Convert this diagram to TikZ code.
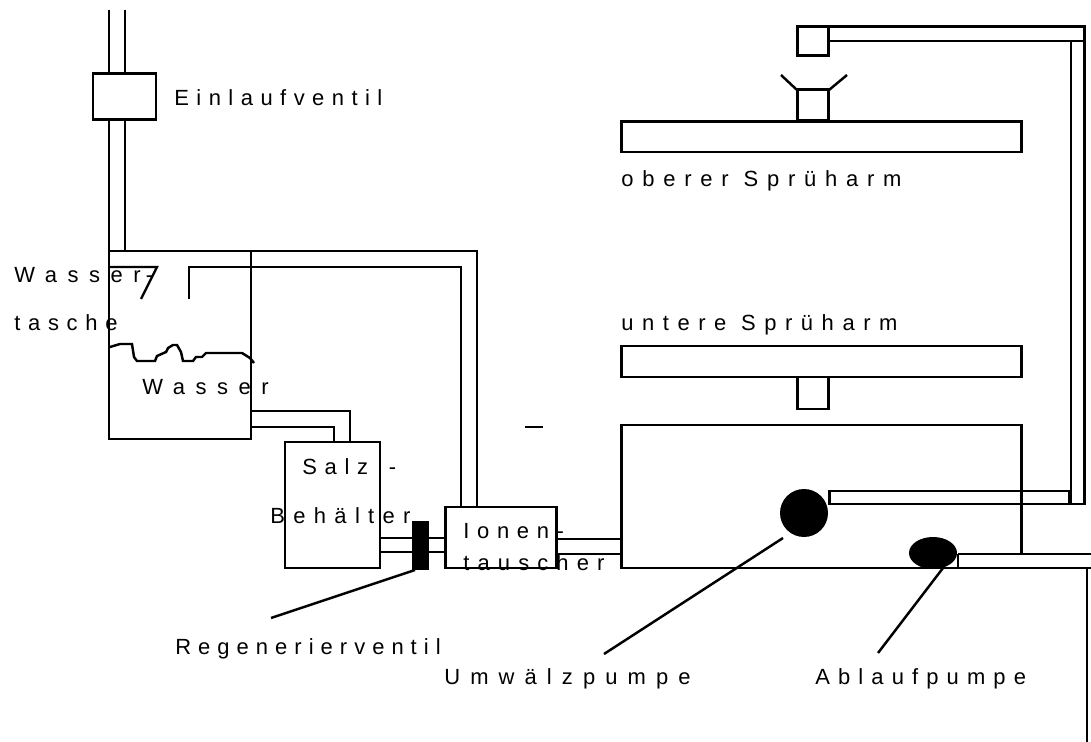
\documentclass[tikz,border=0pt]{standalone}
\usepackage{fontspec}
\setmainfont{Liberation Sans}
\usepackage{tikz}
\usetikzlibrary{positioning}
\tikzset{
  wall/.style={line width=1.7pt},
  pipe/.style={line width=1.3pt},
  leader/.style={line width=1.4pt},
  lbl/.style={anchor=base west,inner sep=0pt,font=\fontsize{12.5pt}{15pt}\selectfont\addfontfeature{LetterSpace=#1}},
  lbl/.default=35
}

\begin{document}
\begin{tikzpicture}[x=0.02cm,y=-0.02cm]
\useasboundingbox (0,0) rectangle (1091,742);
% Inlet pipe and valve
\draw[pipe] (109,10) -- (109,74) (125,10) -- (125,74);
\draw[wall] (93,74) rectangle (156,120);
\draw[pipe] (109,120) -- (109,251) (125,120) -- (125,251);
\node[lbl=34] (einlauf) at (174,106) {Einlaufventil};

% Water pocket
\draw[wall] (109,251) rectangle (251,439);
\draw[pipe] (109,267) -- (157,267) -- (141,299);
\draw[pipe] (189,299) -- (189,267) -- (461,267) -- (461,507);
\draw[pipe] (251,251) -- (477,251) -- (477,507);
\draw[leader] (110,347) -- (120,344) -- (132,344) -- (134,357) -- (137,361) -- (155,361) -- (157,356)
  -- (166,352) -- (168,348) -- (173,345) -- (177,345) -- (181,352) -- (183,361) -- (193,361)
  -- (196,357) -- (202,357) -- (206,353) -- (242,353) -- (250,358) -- (254,363);
\node[lbl=48] (tasche1) at (14,283) {Wasser\hspace{3pt}-};
\node[lbl] (tasche2) at (14,331) {tasche};
\node[lbl=48] (wasser) at (142,395) {Wasser};
\draw[pipe] (251,411) -- (350,411) -- (350,442);
\draw[pipe] (251,427) -- (334,427) -- (334,442);

% Salt container and regeneration valve
\draw[wall] (285,442) rectangle (380,568);
\node[lbl] (salz) at (302,475) {Salz\hspace{4pt} -};
\node[lbl=38] (behaelter) at (270,523) {Behälter};
\draw[wall] (380,538) -- (445,538) (380,552) -- (445,552);
\fill (412,521) rectangle (429,570);
\draw[leader] (271,618) -- (415,570);
\node[lbl=32] (regen) at (175,654) {Regenerierventil};

% Ion exchanger
\draw[wall] (445,507) rectangle (556,568);
\node[lbl] (ionen) at (463,539) {Ionen-};
\node[lbl=37] (tauscher) at (463,570) {tauscher};
\draw[pipe] (556,539) -- (621,539) (556,554) -- (621,554);
\draw[pipe] (525,427) -- (543,427);

% Tub
\draw[wall] (1021,554) -- (1021,425) -- (621,425) -- (621,568) -- (1091,568);
\draw[pipe] (958,568) -- (958,554);
\draw[wall] (958,554) -- (1091,554);
\draw[leader] (1087,568) -- (1087,742);

% Pumps
\fill (804,513) circle (24);
\fill (933,553) ellipse (24 and 16);
\draw[leader] (604,654) -- (783,538);
\draw[leader] (878,653) -- (943,568);
\node[lbl=46] (umwaelz) at (444,684) {Umwälzpumpe};
\node[lbl=37] (ablauf) at (815,684) {Ablaufpumpe};

% Riser to the upper spray arm
\draw[wall] (829,491) rectangle (1069,504);
\draw[pipe] (1071,41) -- (1071,504);
\draw[wall] (1071,504) -- (1084,504) -- (1084,27) -- (829,27);
\draw[pipe] (829,41) -- (1084,41);
\draw[wall] (797,27) rectangle (828,56);

% Spray arms
\draw[wall] (797,90) rectangle (828,121);
\draw[leader] (781,75) -- (797,90) (847,75) -- (829,90);
\draw[wall] (621,122) rectangle (1021,152);
\draw[wall] (621,346) rectangle (1021,377);
\draw[wall] (797,377) rectangle (828,409);
\node[lbl=40] (oberer) at (621,187) {oberer Sprüharm};
\node[lbl=39] (untere) at (621,331) {untere Sprüharm};
\end{tikzpicture}
\end{document}
